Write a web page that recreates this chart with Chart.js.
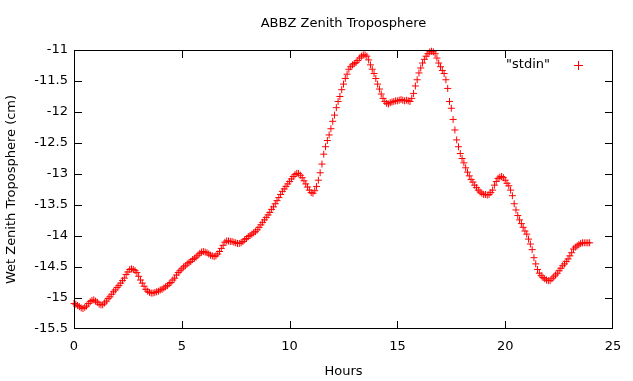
<!DOCTYPE html>
<html>
<head>
<meta charset="utf-8">
<script src="https://cdn.jsdelivr.net/npm/chart.js@4/dist/chart.umd.min.js"></script>
<style>
    html, body { margin: 0; padding: 0; background: #fff; }
    #box { width: 633px; height: 381px; }
</style>
</head>
<body>
<div id="box"><canvas id="wzChart"></canvas></div>
<script>
// one reading every 5 minutes, one row per hour (0 .. 23)
const sampleMinutes = 5;
const wetZenith = [
    -15.09, -15.10, -15.12, -15.14, -15.16, -15.17, -15.15, -15.13, -15.09, -15.06, -15.04, -15.03,
    -15.05, -15.07, -15.10, -15.11, -15.11, -15.08, -15.05, -15.01, -14.98, -14.94, -14.90, -14.87,
    -14.83, -14.80, -14.76, -14.72, -14.68, -14.62, -14.58, -14.54, -14.53, -14.54, -14.56, -14.59,
    -14.65, -14.71, -14.76, -14.81, -14.86, -14.89, -14.91, -14.92, -14.92, -14.91, -14.90, -14.89,
    -14.87, -14.86, -14.84, -14.82, -14.80, -14.77, -14.75, -14.71, -14.68, -14.63, -14.59, -14.56,
    -14.53, -14.50, -14.48, -14.45, -14.43, -14.41, -14.38, -14.36, -14.34, -14.31, -14.28, -14.26,
    -14.25, -14.26, -14.27, -14.29, -14.31, -14.32, -14.33, -14.32, -14.29, -14.25, -14.20, -14.15,
    -14.10, -14.08, -14.08, -14.09, -14.09, -14.10, -14.11, -14.12, -14.12, -14.11, -14.09, -14.06,
    -14.04, -14.01, -13.99, -13.97, -13.95, -13.93, -13.90, -13.86, -13.82, -13.78, -13.74, -13.70,
    -13.66, -13.62, -13.57, -13.53, -13.48, -13.43, -13.38, -13.33, -13.28, -13.24, -13.20, -13.16,
    -13.12, -13.08, -13.04, -13.01, -12.99, -12.99, -13.02, -13.06, -13.11, -13.16, -13.21, -13.26,
    -13.30, -13.31, -13.27, -13.20, -13.10, -12.98, -12.84, -12.68, -12.56, -12.46, -12.37, -12.27,
    -12.15, -12.05, -11.93, -11.83, -11.75, -11.64, -11.55, -11.46, -11.39, -11.31, -11.27, -11.24,
    -11.22, -11.20, -11.17, -11.13, -11.10, -11.08, -11.08, -11.10, -11.16, -11.24, -11.31, -11.38,
    -11.46, -11.55, -11.63, -11.71, -11.78, -11.83, -11.86, -11.87, -11.85, -11.84, -11.83, -11.82,
    -11.82, -11.81, -11.80, -11.81, -11.82, -11.81, -11.82, -11.83, -11.78, -11.70, -11.58, -11.48,
    -11.37, -11.29, -11.21, -11.15, -11.10, -11.06, -11.03, -11.02, -11.03, -11.06, -11.13, -11.21,
    -11.27, -11.33, -11.38, -11.48, -11.62, -11.83, -11.94, -12.12, -12.29, -12.45, -12.56, -12.67,
    -12.75, -12.82, -12.90, -12.97, -13.03, -13.09, -13.13, -13.18, -13.22, -13.26, -13.29, -13.31,
    -13.33, -13.33, -13.34, -13.33, -13.30, -13.26, -13.18, -13.12, -13.07, -13.05, -13.04, -13.06,
    -13.10, -13.15, -13.19, -13.26, -13.35, -13.48, -13.58, -13.67, -13.74, -13.80, -13.86, -13.92,
    -13.97, -14.05, -14.13, -14.22, -14.35, -14.45, -14.54, -14.60, -14.64, -14.67, -14.69, -14.71,
    -14.72, -14.72, -14.69, -14.66, -14.63, -14.60, -14.56, -14.52, -14.48, -14.45, -14.41, -14.37,
    -14.32, -14.27, -14.21, -14.18, -14.16, -14.14, -14.12, -14.11, -14.11, -14.11, -14.11, -14.11
];
const xTicks = [0, 5, 10, 15, 20, 25];
const yTicks = [-15.5, -15, -14.5, -14, -13.5, -13, -12.5, -12, -11.5, -11];

const seriesName = '"stdin"';
const chartTitle = "ABBZ Zenith Troposphere";
const xTitle = "Hours";
const yTitle = "Wet Zenith Troposphere (cm)";

const points = wetZenith.map((v, i) => ({ x: i * sampleMinutes / 60, y: v }));

const FONT = "'DejaVu Sans', sans-serif";
Chart.defaults.font.family = FONT;
Chart.defaults.font.size = 13;
Chart.defaults.color = "#000";

// gnuplot style: box border, inward ticks on all four sides, text labels
const gnuFrame = {
    id: "gnuFrame",
    afterDraw(chart) {
        const { ctx, chartArea: a } = chart;
        const xs = chart.scales.x, ys = chart.scales.y;
        const L = Math.round(a.left), R = Math.round(a.right) - 1;
        const T = Math.round(a.top), B = Math.round(a.bottom) - 1;
        const tl = 7;
        ctx.save();
        ctx.fillStyle = "#000";
        ctx.fillRect(L, T, R - L + 1, 1);
        ctx.fillRect(L, B, R - L + 1, 1);
        ctx.fillRect(L, T, 1, B - T + 1);
        ctx.fillRect(R, T, 1, B - T + 1);
        xTicks.forEach(t => {
            const px = Math.min(R, Math.round(xs.getPixelForValue(t)));
            ctx.fillRect(px, B - tl, 1, tl);
            ctx.fillRect(px, T + 1, 1, tl);
        });
        yTicks.forEach(t => {
            const py = Math.min(B, Math.round(ys.getPixelForValue(t)));
            ctx.fillRect(L + 1, py, tl, 1);
            ctx.fillRect(R - tl, py, tl, 1);
        });

        const cx = (a.left + a.right) / 2;
        ctx.font = "13px " + FONT;
        ctx.textBaseline = "middle";
        ctx.textAlign = "center";
        ctx.fillText(chartTitle, cx, 24);
        ctx.fillText(xTitle, cx, 372);
        ctx.save();
        ctx.translate(12, (a.top + a.bottom) / 2);
        ctx.rotate(-Math.PI / 2);
        ctx.fillText(yTitle, 0, 0);
        ctx.restore();
        // key
        ctx.textAlign = "right";
        ctx.fillText(seriesName, 550, 65);
        ctx.fillStyle = "#ff0000";
        ctx.fillRect(574, 65, 9, 1);
        ctx.fillRect(578, 61, 1, 9);
        ctx.restore();
    }
};

new Chart(document.getElementById("wzChart"), {
    type: "scatter",
    data: {
        datasets: [{
            label: seriesName,
            data: points,
            pointStyle: "cross",
            pointRadius: 3.5,
            pointHoverRadius: 3.5,
            borderColor: "#ff0000",
            backgroundColor: "#ff0000",
            pointBorderWidth: 1,
            clip: false
        }]
    },
    options: {
        responsive: true,
        maintainAspectRatio: false,
        animation: false,
        events: [],
        layout: { padding: { top: 50, right: 20, left: 0, bottom: 0 } },
        plugins: {
            legend: { display: false },
            title: { display: false },
            tooltip: { enabled: false }
        },
        scales: {
            x: {
                type: "linear",
                min: 0,
                max: 25,
                afterBuildTicks: s => { s.ticks = xTicks.map(v => ({ value: v })); },
                afterFit: s => { s.height = 52; },
                grid: { display: false, drawTicks: false },
                border: { display: false },
                ticks: { padding: 10, maxRotation: 0, callback: v => String(v) }
            },
            y: {
                min: -15.5,
                max: -11,
                afterBuildTicks: s => { s.ticks = yTicks.map(v => ({ value: v })); },
                afterFit: s => { s.width = 74; },
                grid: { display: false, drawTicks: false },
                border: { display: false },
                ticks: { padding: 6, callback: v => String(v) }
            }
        }
    },
    plugins: [gnuFrame]
});
</script>
</body>
</html>
